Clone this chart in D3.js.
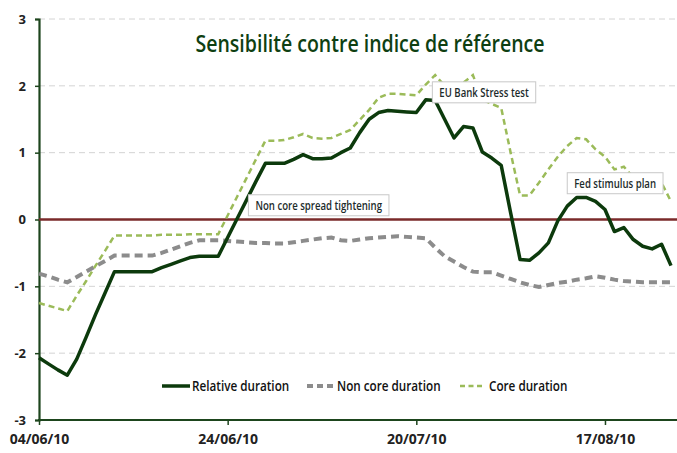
<!DOCTYPE html>
<html>
<head>
<meta charset="utf-8">
<script src="https://cdn.jsdelivr.net/npm/d3@7"></script>
<style>
  body { margin: 0; background: #fff; }
  svg text { font-family: "Open Sans", sans-serif; }
</style>
</head>
<body>
<div id="container"></div>
<script>
// chart data
const title = "Sensibilité contre indice de référence";
const tickIndex = [0, 20, 40, 60];
const tickLabels = ["04/06/10", "24/06/10", "20/07/10", "17/08/10"];
const yTicks = [-3, -2, -1, 0, 1, 2, 3];

const relative = [
  -2.07, -2.16, -2.25, -2.33, -2.09, -1.76, -1.42, -1.10, -0.78, -0.78,
  -0.78, -0.78, -0.78, -0.72, -0.67, -0.62, -0.57, -0.55, -0.55, -0.55,
  -0.27, 0.01, 0.29, 0.57, 0.84, 0.84, 0.84, 0.90, 0.97, 0.91,
  0.91, 0.92, 1.00, 1.07, 1.30, 1.50, 1.60, 1.63, 1.62, 1.61,
  1.60, 1.79, 1.78, 1.50, 1.22, 1.39, 1.37, 1.01, 0.92, 0.81,
  0.10, -0.60, -0.61, -0.50, -0.35, -0.02, 0.20, 0.33, 0.33, 0.27,
  0.15, -0.18, -0.12, -0.30, -0.40, -0.44, -0.37, -0.69
];
const nonCore = [
  -0.81, -0.85, -0.90, -0.94, -0.86, -0.78, -0.70, -0.62, -0.54, -0.54,
  -0.54, -0.54, -0.54, -0.50, -0.45, -0.40, -0.35, -0.31, -0.31, -0.31,
  -0.32, -0.33, -0.34, -0.35, -0.35, -0.36, -0.36, -0.34, -0.32, -0.30,
  -0.28, -0.27, -0.31, -0.32, -0.30, -0.28, -0.27, -0.26, -0.25, -0.26,
  -0.27, -0.28, -0.42, -0.55, -0.63, -0.71, -0.78, -0.79, -0.79, -0.84,
  -0.89, -0.94, -0.98, -1.01, -0.98, -0.95, -0.93, -0.90, -0.88, -0.85,
  -0.87, -0.90, -0.92, -0.93, -0.94, -0.94, -0.94, -0.94
];
const core = [
  -1.25, -1.29, -1.33, -1.37, -1.14, -0.92, -0.69, -0.47, -0.24, -0.24,
  -0.24, -0.24, -0.24, -0.23, -0.23, -0.23, -0.22, -0.22, -0.22, -0.22,
  0.06, 0.34, 0.62, 0.90, 1.18, 1.18, 1.19, 1.23, 1.28, 1.22,
  1.21, 1.22, 1.28, 1.34, 1.49, 1.64, 1.82, 1.88, 1.88, 1.87,
  1.86, 2.02, 2.16, 2.00, 1.84, 2.05, 2.16, 1.79, 1.73, 1.67,
  1.00, 0.36, 0.36, 0.55, 0.75, 0.94, 1.10, 1.22, 1.20, 1.05,
  0.94, 0.75, 0.79, 0.63, 0.57, 0.51, 0.55, 0.27
];

const seriesNames = ["Relative duration", "Non core duration", "Core duration"];

// annotations anchored at (category index, value) of the box's top-left corner
const notes = [
  { text: "Non core spread tightening", i: 22.2, v: 0.37 },
  { text: "EU Bank Stress test", i: 41.7, v: 2.06 },
  { text: "Fed stimulus plan", i: 56.0, v: 0.70 }
];

const w = 677;
const h = 453;
const padL = 39, padR = 671, padT = 19, padB = 420;
const squeeze = 0.78; // the original font is a narrow one

// narrows a text element to mimic the condensed original face
function condense(sel, k) {
  const len = sel.node().getComputedTextLength();
  sel.attr("textLength", len * k).attr("lengthAdjust", "spacingAndGlyphs");
  return len * k;
}

const svg = d3.select("#container")
  .append("svg")
  .attr("width", w)
  .attr("height", h);

const x = d3.scaleLinear().domain([0, relative.length - 1]).range([padL, padR]);
const y = d3.scaleLinear().domain([-3, 3]).range([padB, padT]);

// gridlines
svg.append("g")
  .selectAll("line")
  .data(yTicks.filter(d => d !== 0 && d !== -3))
  .enter().append("line")
  .attr("x1", padL).attr("x2", 676)
  .attr("y1", d => y(d)).attr("y2", d => y(d))
  .attr("stroke", "#d4d4d4")
  .attr("stroke-width", 1)
  .attr("stroke-dasharray", "6,4");

// y axis
const yAxis = d3.axisLeft(y).tickValues(yTicks).tickSize(4).tickPadding(9)
  .tickFormat(d => d);
const gy = svg.append("g")
  .attr("transform", `translate(${padL},0)`)
  .call(yAxis);
gy.select(".domain").attr("stroke", "#1d451d").attr("stroke-width", 2.2);
gy.selectAll(".tick line").attr("stroke", "#1d451d").attr("stroke-width", 1.5);
gy.selectAll(".tick text")
  .attr("fill", "#222")
  .style("font-family", "'Open Sans', sans-serif")
  .style("font-size", "13px")
  .style("font-weight", "bold");

// zero line
svg.append("line")
  .attr("x1", padL).attr("x2", 677)
  .attr("y1", y(0)).attr("y2", y(0))
  .attr("stroke", "#7a2a2a")
  .attr("stroke-width", 2.5);

// x axis
const xAxis = d3.axisBottom(x).tickValues(tickIndex).tickSize(5).tickPadding(9)
  .tickFormat((d, i) => tickLabels[i]);
const gx = svg.append("g")
  .attr("transform", `translate(0,${padB})`)
  .call(xAxis);
gx.select(".domain").remove();
gx.append("line")
  .attr("x1", padL - 1).attr("x2", 677)
  .attr("stroke", "#1d451d").attr("stroke-width", 2.2);
gx.selectAll(".tick line").attr("stroke", "#1d451d").attr("stroke-width", 1.5);
gx.selectAll(".tick text")
  .attr("fill", "#222")
  .style("font-family", "'Open Sans', sans-serif")
  .style("font-size", "14px")
  .style("font-weight", "bold");

// lines
const line = d3.line().x((d, i) => x(i)).y(d => y(d));

svg.append("path")
  .datum(nonCore)
  .attr("d", line)
  .attr("fill", "none")
  .attr("stroke", "#8c8c8c")
  .attr("stroke-width", 4)
  .attr("stroke-dasharray", "8,5");

svg.append("path")
  .datum(core)
  .attr("d", line)
  .attr("fill", "none")
  .attr("stroke", "#9bbb59")
  .attr("stroke-width", 2.5)
  .attr("stroke-dasharray", "6,4");

svg.append("path")
  .datum(relative)
  .attr("d", line)
  .attr("fill", "none")
  .attr("stroke", "#0c3a0c")
  .attr("stroke-width", 3.5)
  .attr("stroke-linejoin", "round");

// annotation boxes
notes.forEach(n => {
  const g = svg.append("g").attr("transform", `translate(${x(n.i)},${y(n.v)})`);
  const rect = g.append("rect")
    .attr("fill", "#fff")
    .attr("stroke", "#c8c8c8")
    .attr("stroke-width", 1);
  const t = g.append("text")
    .attr("x", 7)
    .attr("y", 15)
    .attr("fill", "#1c2b2b")
    .style("font-size", "12px")
    .style("font-weight", 600)
    .text(n.text);
  const tw = condense(t, 0.8);
  rect.attr("width", tw + 14).attr("height", 21);
});

// title
svg.append("text")
  .attr("x", 370)
  .attr("y", 52)
  .attr("text-anchor", "middle")
  .attr("fill", "#0e3f12")
  .style("font-family", "'Open Sans', sans-serif")
  .style("font-size", "23px")
  .style("font-weight", 600)
  .attr("textLength", 349)
  .attr("lengthAdjust", "spacingAndGlyphs")
  .text(title);

// legend
const legendItems = [
  { name: seriesNames[0], x1: 162, x2: 190, color: "#0c3a0c", width: 3.5, dash: null },
  { name: seriesNames[1], x1: 307, x2: 335, color: "#8c8c8c", width: 4, dash: "6,4" },
  { name: seriesNames[2], x1: 460, x2: 483, color: "#9bbb59", width: 2.5, dash: "5,3.5" }
];
const legend = svg.append("g");
legendItems.forEach((d, i) => {
  legend.append("line")
    .attr("x1", d.x1).attr("x2", d.x2)
    .attr("y1", 386).attr("y2", 386)
    .attr("stroke", d.color)
    .attr("stroke-width", d.width)
    .attr("stroke-dasharray", d.dash);
  const t = legend.append("text")
    .attr("x", d.x2 + (i === 2 ? 6 : 2))
    .attr("y", 391)
    .attr("fill", "#111")
    .style("font-size", "15px")
    .style("font-weight", 600)
    .text(d.name);
  condense(t, squeeze);
});
</script>
</body>
</html>
